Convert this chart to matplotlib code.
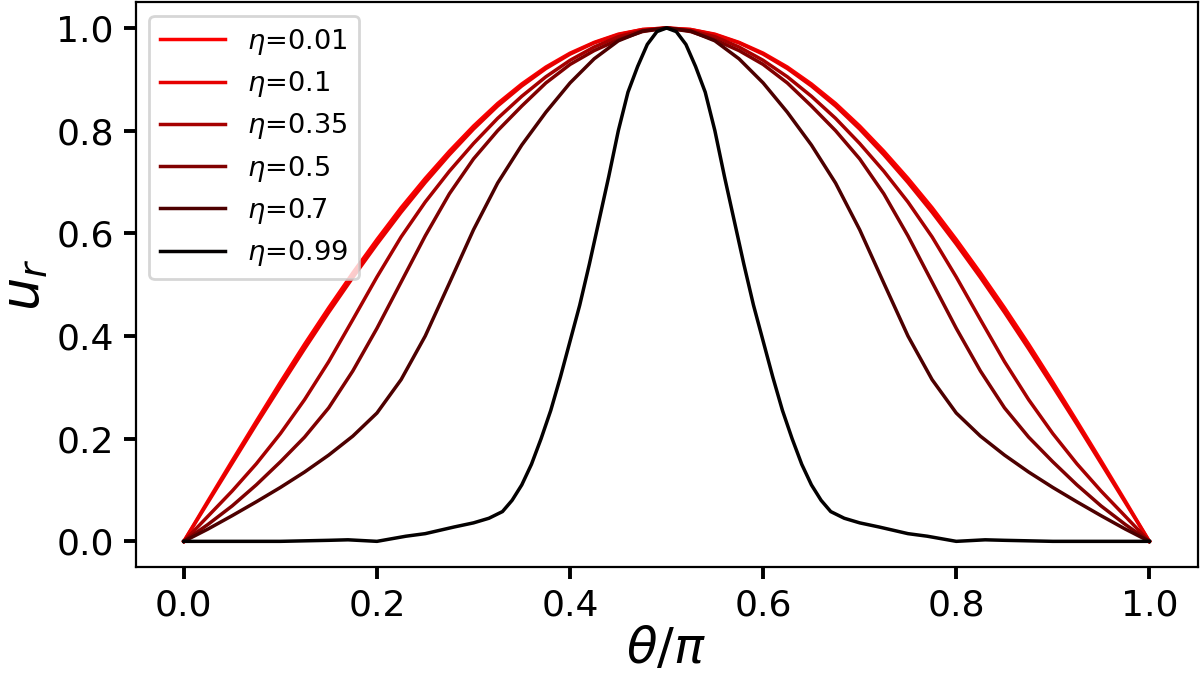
import numpy as np
import matplotlib
matplotlib.use("Agg")
import matplotlib.pyplot as plt

# theta/pi grid (0.025 step) for the smooth curves
theta = [0.0, 0.025, 0.05, 0.075, 0.1, 0.125, 0.15, 0.175, 0.2, 0.225, 0.25,
         0.275, 0.3, 0.325, 0.35, 0.375, 0.4, 0.425, 0.45, 0.475, 0.5,
         0.525, 0.55, 0.575, 0.6, 0.625, 0.65, 0.675, 0.7, 0.725, 0.75,
         0.775, 0.8, 0.825, 0.85, 0.875, 0.9, 0.925, 0.95, 0.975, 1.0]

ur_001 = [0.0, 0.079, 0.157, 0.234, 0.310, 0.384, 0.455, 0.523, 0.588, 0.650, 0.707,
          0.760, 0.809, 0.853, 0.891, 0.924, 0.951, 0.972, 0.988, 0.997, 1.0,
          0.997, 0.988, 0.972, 0.951, 0.924, 0.891, 0.853, 0.809, 0.760, 0.707,
          0.650, 0.588, 0.523, 0.455, 0.384, 0.310, 0.234, 0.157, 0.079, 0.0]

ur_01 = [0.0, 0.076, 0.152, 0.228, 0.302, 0.375, 0.446, 0.514, 0.579, 0.641, 0.699,
         0.753, 0.803, 0.848, 0.887, 0.921, 0.949, 0.971, 0.987, 0.997, 1.0,
         0.997, 0.987, 0.971, 0.949, 0.921, 0.887, 0.848, 0.803, 0.753, 0.699,
         0.641, 0.579, 0.514, 0.446, 0.375, 0.302, 0.228, 0.152, 0.076, 0.0]

ur_035 = [0.0, 0.049, 0.098, 0.151, 0.210, 0.276, 0.350, 0.432, 0.515, 0.593, 0.661,
          0.721, 0.775, 0.824, 0.867, 0.905, 0.937, 0.963, 0.983, 0.995, 1.0,
          0.995, 0.983, 0.963, 0.937, 0.905, 0.867, 0.824, 0.775, 0.721, 0.661,
          0.593, 0.515, 0.432, 0.350, 0.276, 0.210, 0.151, 0.098, 0.049, 0.0]

ur_05 = [0.0, 0.033, 0.069, 0.110, 0.155, 0.203, 0.260, 0.332, 0.415, 0.505, 0.595,
         0.677, 0.745, 0.800, 0.848, 0.893, 0.929, 0.956, 0.977, 0.993, 1.0,
         0.993, 0.977, 0.956, 0.929, 0.893, 0.848, 0.800, 0.745, 0.677, 0.595,
         0.505, 0.415, 0.332, 0.260, 0.203, 0.155, 0.110, 0.069, 0.033, 0.0]

ur_07 = [0.0, 0.024, 0.050, 0.077, 0.105, 0.135, 0.168, 0.205, 0.250, 0.315, 0.400,
         0.503, 0.607, 0.698, 0.772, 0.836, 0.893, 0.940, 0.975, 0.994, 1.0,
         0.994, 0.975, 0.940, 0.893, 0.836, 0.772, 0.698, 0.607, 0.503, 0.400,
         0.315, 0.250, 0.205, 0.168, 0.135, 0.105, 0.077, 0.050, 0.024, 0.0]

# eta = 0.99 curve, sampled more finely near the peak
theta_099 = [0.0, 0.05, 0.1, 0.15, 0.17, 0.2, 0.23, 0.25, 0.28, 0.3, 0.316, 0.33,
             0.34, 0.35, 0.36, 0.37, 0.38, 0.39, 0.40, 0.41, 0.42, 0.43, 0.44,
             0.45, 0.46, 0.47, 0.48, 0.49, 0.5,
             0.51, 0.52, 0.53, 0.54, 0.55, 0.56, 0.57, 0.58, 0.59, 0.60, 0.61,
             0.62, 0.63, 0.64, 0.65, 0.66, 0.67, 0.684, 0.7, 0.72, 0.75, 0.77,
             0.8, 0.83, 0.85, 0.9, 0.95, 1.0]
ur_099 = [0.0, 0.0, 0.0, 0.002, 0.003, 0.0, 0.01, 0.015, 0.028, 0.036, 0.045, 0.058,
          0.08, 0.11, 0.15, 0.20, 0.255, 0.32, 0.39, 0.46, 0.54, 0.625, 0.71,
          0.80, 0.875, 0.925, 0.968, 0.993, 1.0,
          0.993, 0.968, 0.925, 0.875, 0.80, 0.71, 0.625, 0.54, 0.46, 0.39, 0.32,
          0.255, 0.20, 0.15, 0.11, 0.08, 0.058, 0.045, 0.036, 0.028, 0.015, 0.01,
          0.0, 0.003, 0.002, 0.0, 0.0, 0.0]

etas = [0.01, 0.1, 0.35, 0.5, 0.7, 0.99]
labels = [r"$\eta$=0.01", r"$\eta$=0.1", r"$\eta$=0.35", r"$\eta$=0.5",
          r"$\eta$=0.7", r"$\eta$=0.99"]

fig = plt.figure(figsize=(6.0, 3.41), dpi=200)
ax = fig.add_axes([0.113, 0.1686, 0.885, 0.828])

series = [(theta, ur_001), (theta, ur_01), (theta, ur_035), (theta, ur_05),
          (theta, ur_07), (theta_099, ur_099)]
for (xs, ys), eta, lab in zip(series, etas, labels):
    ax.plot(xs, ys, color=(1 - eta, 0, 0), lw=1.25, label=lab)

ax.set_xticks([0.0, 0.2, 0.4, 0.6, 0.8, 1.0])
ax.set_yticks([0.0, 0.2, 0.4, 0.6, 0.8, 1.0])
ax.tick_params(labelsize=13, length=4.3, width=1.4)
ax.set_xlabel(r"$\theta/\pi$", fontsize=18, labelpad=1)
ax.set_ylabel(r"$u_r$", fontsize=19, labelpad=2)

ax.legend(loc="upper left", fontsize=9.8, handlelength=2.4, borderaxespad=0.5,
          labelspacing=0.45)

fig.savefig("out.png", dpi=200)
